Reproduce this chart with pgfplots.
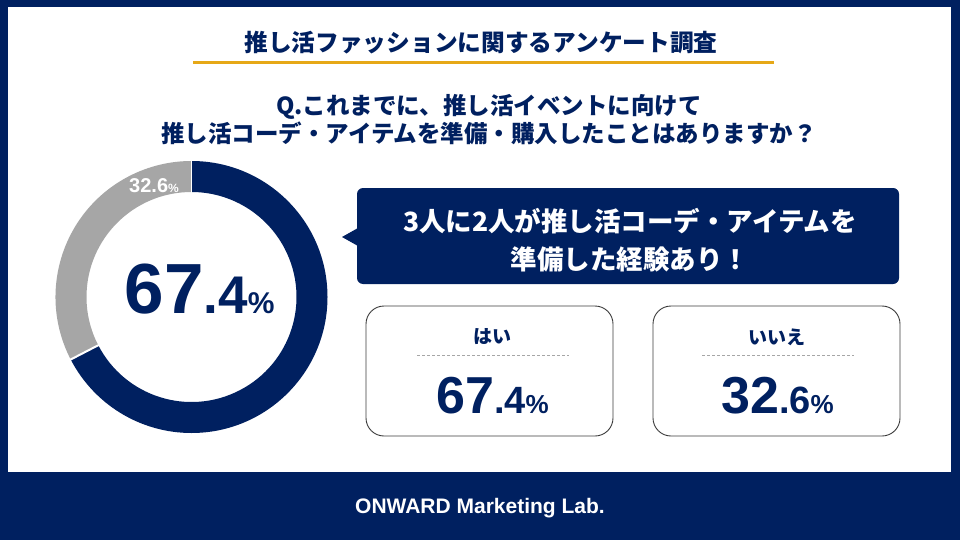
\documentclass[border=0pt]{standalone}
\usepackage{pgfplots}
\pgfplotsset{compat=1.18}
\usepackage{fontspec}
\setmainfont{Liberation Sans}
\newfontfamily\jp{Noto Sans CJK JP}
\definecolor{navy}{RGB}{0,32,96}
\definecolor{ringgray}{RGB}{166,166,166}
\definecolor{gold}{RGB}{230,168,23}
\definecolor{cardline}{RGB}{60,60,60}
\begin{document}
\begin{tikzpicture}
\begin{axis}[
  scale only axis, width=960pt, height=540pt,
  xmin=0, xmax=960, ymin=0, ymax=540, y dir=reverse,
  hide axis, clip=false,
]
% background
\fill[navy] (axis cs:0,0) rectangle (axis cs:960,540);
\fill[white] (axis cs:8,7) rectangle (axis cs:951,472);
% title
\node[navy, inner sep=0, font={\jp\bfseries\fontsize{23.7}{28}\selectfont}] at (axis cs:481,43) {推し活ファッションに関するアンケート調査};
\draw[gold, line width=3.5pt] (axis cs:193,62.5) -- (axis cs:774,62.5);
\node[navy, inner sep=0, align=center, font={\jp\bfseries\fontsize{23.5}{28}\selectfont}] at (axis cs:489,120) {Q.これまでに、推し活イベントに向けて\\ 推し活コーデ・アイテムを準備・購入したことはありますか？};
% donut from data values
\def\yes{67.4}
\def\no{32.6}
\pgfmathsetmacro\endang{90-3.6*\yes}
\pgfmathsetmacro\fullang{90-360}
\coordinate (c) at (axis cs:191.5,297);
\fill[navy] ([shift={(90:136pt)}]c) arc[start angle=90, end angle=\endang, radius=136pt]
   -- ([shift={(\endang:105pt)}]c) arc[start angle=\endang, end angle=90, radius=105pt] -- cycle;
\fill[ringgray] ([shift={(\endang:136pt)}]c) arc[start angle=\endang, end angle=\fullang, radius=136pt]
   -- ([shift={(\fullang:105pt)}]c) arc[start angle=\fullang, end angle=\endang, radius=105pt] -- cycle;
\draw[white, line width=1.5pt] ([shift={(90:103pt)}]c) -- ([shift={(90:138pt)}]c);
\draw[white, line width=2pt] ([shift={(\endang:103pt)}]c) -- ([shift={(\endang:138pt)}]c);
\node[white, anchor=base, inner sep=0] at (axis cs:154,192) {\bfseries{\fontsize{20}{20}\selectfont 32.6}{\fontsize{12}{12}\selectfont\%}};
\node[navy, anchor=base, inner sep=0] at (axis cs:199.5,313) {\bfseries{\fontsize{71}{71}\selectfont 67}{\fontsize{53}{53}\selectfont .4}{\fontsize{30}{30}\selectfont\%}};
% callout
\fill[navy, rounded corners=6pt] (axis cs:357,188) rectangle (axis cs:899,284);
\fill[navy] (axis cs:358,228) -- (axis cs:342,237) -- (axis cs:358,246) -- cycle;
\node[white, inner sep=0, align=center, font={\jp\bfseries\fontsize{26.5}{38}\selectfont}] at (axis cs:630,240) {3人に2人が推し活コーデ・アイテムを\\ 準備した経験あり！};
% cards
\draw[cardline, line width=0.9pt, rounded corners=18pt, fill=white] (axis cs:366,306) rectangle (axis cs:613,436);
\draw[cardline, line width=0.9pt, rounded corners=18pt, fill=white] (axis cs:653,306) rectangle (axis cs:900,436);
\node[navy, inner sep=0, font={\jp\bfseries\fontsize{19}{22}\selectfont}] at (axis cs:492,337) {はい};
\node[navy, inner sep=0, font={\jp\bfseries\fontsize{19}{22}\selectfont}] at (axis cs:777,337) {いいえ};
\draw[gray!70, dash pattern=on 3pt off 2pt, line width=0.6pt] (axis cs:417,355) -- (axis cs:569,355);
\draw[gray!70, dash pattern=on 3pt off 2pt, line width=0.6pt] (axis cs:702,355) -- (axis cs:854,355);
\node[navy, anchor=base, inner sep=0] at (axis cs:492.5,413) {\bfseries{\fontsize{52}{52}\selectfont 67}{\fontsize{38}{38}\selectfont .4}{\fontsize{26}{26}\selectfont\%}};
\node[navy, anchor=base, inner sep=0] at (axis cs:777.5,413) {\bfseries{\fontsize{52}{52}\selectfont 32}{\fontsize{38}{38}\selectfont .6}{\fontsize{26}{26}\selectfont\%}};
% footer
\node[white, inner sep=0] at (axis cs:480,508) {\bfseries\fontsize{21}{24}\selectfont ONWARD Marketing Lab.};
\end{axis}
\end{tikzpicture}
\end{document}
